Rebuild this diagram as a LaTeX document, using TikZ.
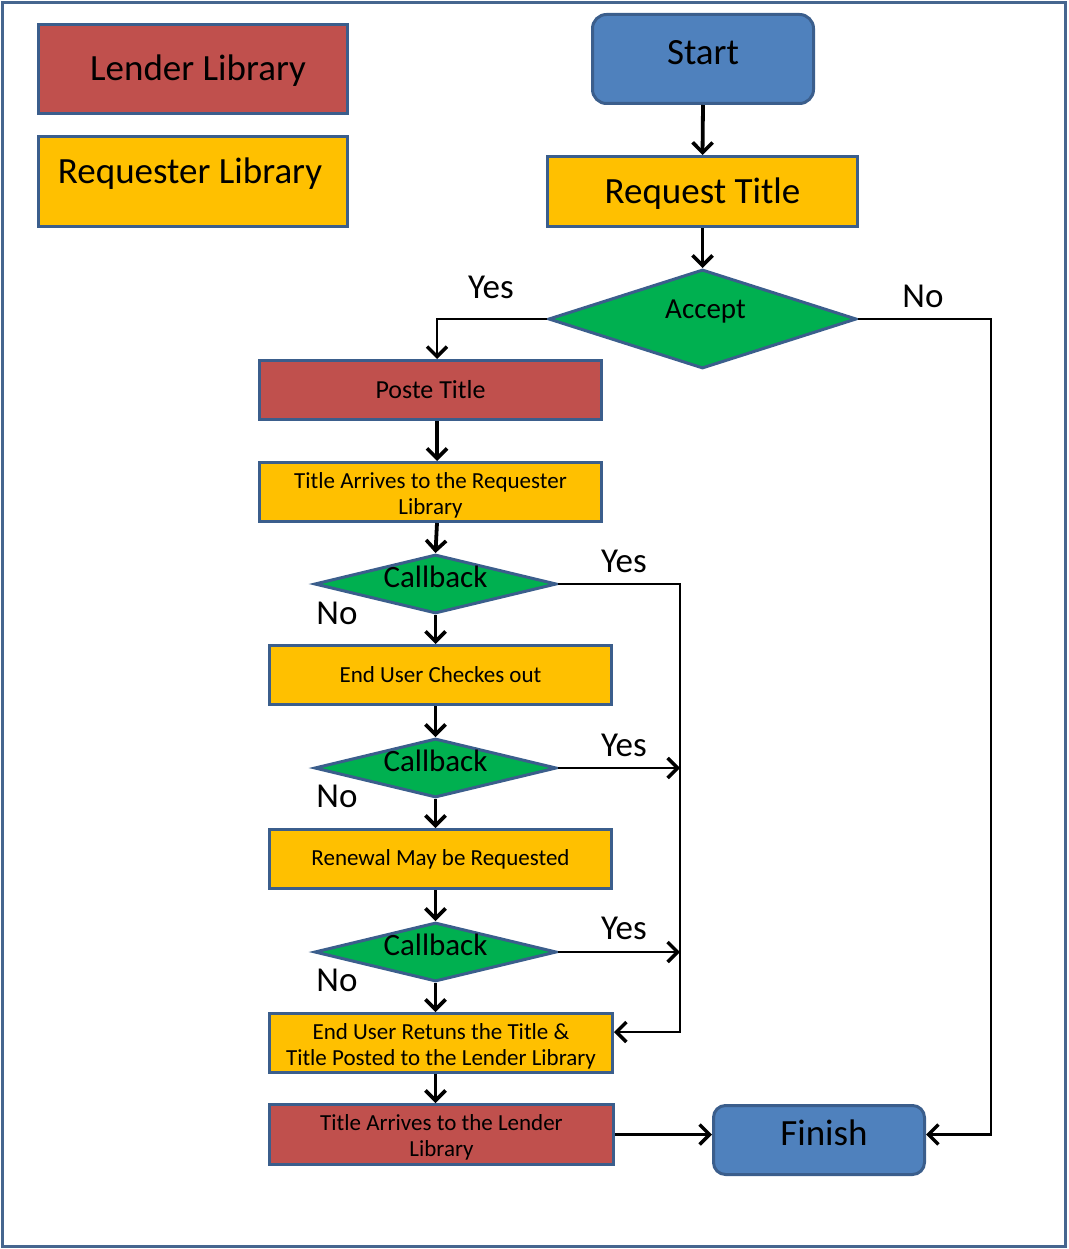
\documentclass[tikz,border=0pt]{standalone}
\usepackage{fontspec}
\setmainfont{Carlito}
\usetikzlibrary{shapes.geometric,arrows.meta}
\definecolor{lendc}{HTML}{C0504D}
\definecolor{reqc}{HTML}{FFC000}
\definecolor{decc}{HTML}{00B050}
\definecolor{termc}{HTML}{4F81BD}
\definecolor{bordc}{HTML}{3B5E8C}
\definecolor{framec}{HTML}{46668F}
\tikzset{
  box/.style={rectangle, draw=bordc, line width=3pt, align=center, text=black, inner sep=2pt},
  lend/.style={box, fill=lendc},
  reqb/.style={box, fill=reqc},
  term/.style={box, fill=termc, rounded corners=14pt},
  dec/.style={diamond, draw=bordc, fill=decc, line width=3pt, inner sep=0pt, aspect=4},
  big/.style={font=\fontsize{37}{44}\selectfont},
  small/.style={font=\fontsize{23}{26}\selectfont},
  yn/.style={font=\fontsize{35}{42}\selectfont, text=black, inner sep=0pt},
  arr/.style={line width=3.8pt, -{Straight Barb[length=10pt,width=20pt,line width=3.6pt]}},
  arrthin/.style={line width=2.7pt, -{Straight Barb[length=10pt,width=20pt,line width=3.4pt]}},
  arrhair/.style={line width=2.3pt, -{Straight Barb[length=10pt,width=20pt,line width=3.4pt]}},
}
\begin{document}
\begin{tikzpicture}[x=1pt,y=-1pt]
\useasboundingbox (0,0) rectangle (1068,1249);
\draw[framec, line width=3.5pt] (2.5,2.5) rectangle (1065.5,1246.5);

% legend
\node[lend, minimum width=309pt, minimum height=89pt,
  label={[big, xshift=5pt, yshift=-2pt]center:Lender Library}] (leg1) at (193,69) {};
\node[reqb, minimum width=309pt, minimum height=90pt,
  label={[big, xshift=-3pt, yshift=8pt]center:Requester Library}] (leg2) at (193,181.5) {};

% main flow
\node[term, minimum width=221pt, minimum height=89pt,
  label={[big, yshift=6pt]center:Start}] (start) at (703,59) {};
\node[reqb, minimum width=310pt, minimum height=70pt,
  label={[big, yshift=-2pt]center:Request Title}] (reqt) at (702.5,191.5) {};
\node[dec, minimum width=308pt, minimum height=99pt,
  label={[font=\fontsize{29}{34}\selectfont, xshift=3pt, yshift=7pt]center:Accept}] (accept) at (702.5,319) {};

\node[lend, minimum width=342pt, minimum height=59pt, font=\fontsize{26}{31}\selectfont] (poste) at (430.5,390) {Poste Title};
\node[reqb, small, minimum width=342pt, minimum height=59pt] (tar) at (430.5,492) {\rule{0pt}{22pt}Title Arrives to the Requester\\Library};

\node[dec, minimum width=242pt, minimum height=59pt,
  label={[font=\fontsize{31}{37}\selectfont, yshift=7pt]center:Callback}] (cb1) at (435.5,584) {};
\node[reqb, small, minimum width=342pt, minimum height=59pt] (euc) at (440.5,675) {End User Checkes out};
\node[dec, minimum width=242pt, minimum height=59pt,
  label={[font=\fontsize{31}{37}\selectfont, yshift=7pt]center:Callback}] (cb2) at (435.5,768) {};
\node[reqb, small, minimum width=342pt, minimum height=59pt] (ren) at (440.5,859) {Renewal May be Requested};
\node[dec, minimum width=242pt, minimum height=59pt,
  label={[font=\fontsize{31}{37}\selectfont, yshift=7pt]center:Callback}] (cb3) at (435.5,952) {};
\node[reqb, small, minimum width=343pt, minimum height=59pt] (eur) at (441,1043) {\rule{0pt}{22pt}End User Retuns the Title \&\\Title Posted to the Lender Library};
\node[lend, small, minimum width=344pt, minimum height=60pt] (tal) at (441.5,1134.5) {\rule{0pt}{22pt}Title Arrives to the Lender\\Library};
\node[term, minimum width=211pt, minimum height=69pt, rounded corners=12pt,
  label={[big, xshift=5pt, yshift=7pt]center:Finish}] (fin) at (819,1140) {};

% junction coordinates
\coordinate (jn) at (991,319);
\coordinate (jy) at (437,319);
\coordinate (jc) at (680,584);
\coordinate (je) at (680,1032);

% labels
\node[yn] (lyes) at (491,287) {Yes};
\node[yn] (lno) at (923,296) {No};
\node[yn] (no1) at (337,613) {No};
\node[yn] (no2) at (337,796) {No};
\node[yn] (no3) at (337,980) {No};
\node[yn] (yes1) at (624,561) {Yes};
\node[yn] (yes2) at (624,745) {Yes};
\node[yn] (yes3) at (624,928) {Yes};

% connectors
\draw[arr] (start.south) -- (reqt.north);
\draw[arr] (reqt.south) -- (accept.north);
\draw[arrhair] (accept.west) -- (jy) -- (jy |- poste.north);
\draw[arrhair] (accept.east) -- (jn) |- (fin.east |- tal.east);
\draw[arr] (jy |- poste.south) -- (jy |- tar.north);
\draw[arr] (jy |- tar.south) -- (cb1.north);
\draw[arr] (cb1.south) -- (cb1.south |- euc.north);
\draw[arr] (cb1.south |- euc.south) -- (cb2.north);
\draw[arr] (cb2.south) -- (cb2.south |- ren.north);
\draw[arr] (cb2.south |- ren.south) -- (cb3.north);
\draw[arr] (cb3.south) -- (cb3.south |- eur.north);
\draw[arr] (cb3.south |- eur.south) -- (cb3.south |- tal.north);
\draw[arrthin] (cb1.east) -- (jc) -- (je) -- (eur.east |- je);
\draw[arrthin] (cb2.east) -- (cb2.east -| jc);
\draw[arrthin] (cb3.east) -- (cb3.east -| jc);
\draw[arrthin] (tal.east) -- (fin.west |- tal.east);
\end{tikzpicture}
\end{document}
